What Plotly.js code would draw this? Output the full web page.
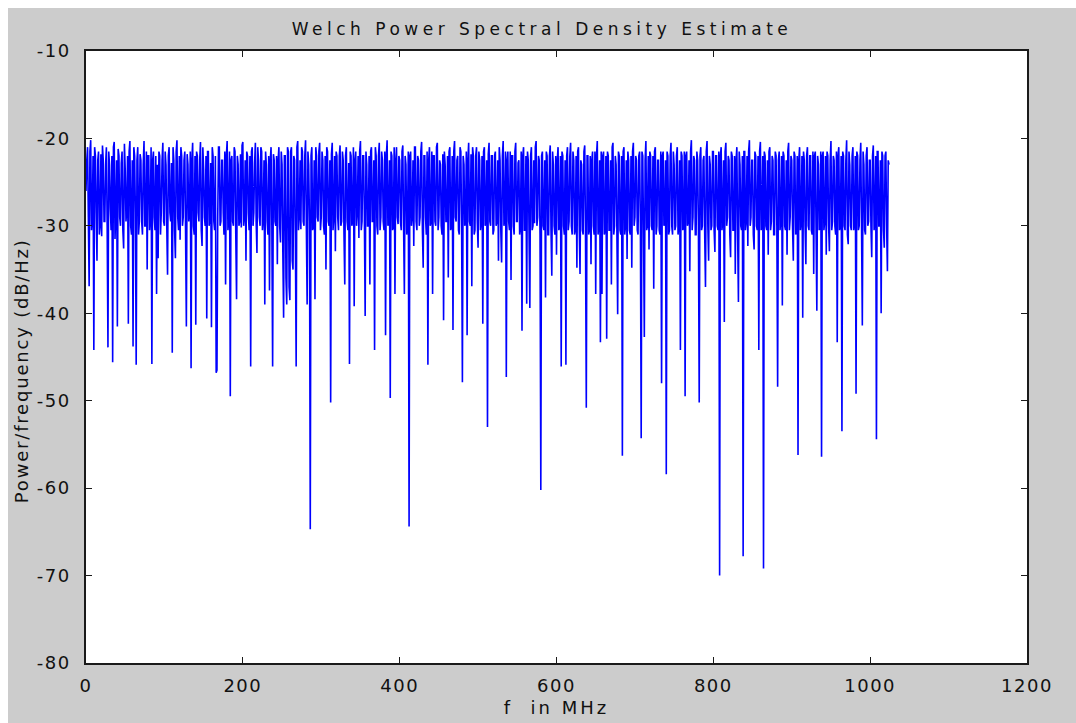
<!DOCTYPE html>
<html>
<head>
<meta charset="utf-8">
<script src="https://cdn.plot.ly/plotly-3.0.1.min.js"></script>
<style>
  html, body { margin: 0; padding: 0; background: #ffffff; }
  #chart { position: absolute; left: 8px; top: 8px; width: 1068px; height: 715px; }
  .gtitle { letter-spacing: 4.5px; }
  .xtick text, .ytick text { letter-spacing: 1.5px; }
  .xtitle { letter-spacing: 3px; }
  .annotation-text { letter-spacing: 1.8px; }
</style>
</head>
<body>
<div id="chart"></div>
<script>
// Frequency grid step (MHz) of the Welch estimate
const freqStepMHz = 1;

// Power/frequency (dB/Hz), one value per 1 MHz bin, 0 .. 1024 MHz (20 values per row)
const psd_dB = [
  -26, -22.5, -21, -29, -36.9, -21.5, -20.2, -30.5, -29, -22, -44.2, -21, -22, -28.5, -34, -22.5, -21.5, -31, -30, -21.8,
  -31.2, -20.8, -22.5, -29.5, -29.5, -23, -21, -30, -43.9, -21.5, -23, -28, -30.5, -22, -45.6, -21, -20.4, -31.5, -28.5, -22.5,
  -41.5, -21.2, -22, -29, -30, -22.8, -21.5, -30.5, -32.6, -20.6, -23.5, -29.5, -28, -22, -41.2, -21.5, -20.3, -30, -31, -22.5,
  -43.8, -21, -22, -28.5, -45.9, -22.5, -21, -31, -29.5, -21.8, -22.5, -29.5, -31, -23, -20.3, -30, -30, -21.5, -35, -22,
  -22, -30.5, -29, -21, -45.8, -22.5, -21.5, -29, -30.5, -22, -37.8, -23, -33.7, -21.5, -22, -31, -28.5, -22.5, -20.5, -29.5,
  -30, -21.5, -23, -30, -35.6, -22, -21, -28.5, -29.5, -22.8, -44.5, -21, -22.5, -30.5, -33.7, -21.5, -20.2, -29, -30.5, -22,
  -31.6, -21, -22, -30, -29, -22.5, -21.5, -31, -41.5, -21.8, -23, -29.5, -28, -21.5, -46.3, -22.5, -20.5, -30, -31, -22,
  -41.3, -21.5, -22, -28.5, -29.5, -22.5, -20.4, -30.5, -32.3, -21, -23.5, -29, -30, -22, -40.6, -21.5, -21.5, -30, -29, -22.8,
  -41.6, -21, -22, -29.5, -30.5, -22, -46.8, -46.5, -29, -21, -21, -30, -29.5, -22.5, -22.5, -28.5, -31, -21.5, -36.7, -22,
  -20.3, -30.5, -29, -21.5, -49.5, -22.5, -22, -29.5, -30, -21, -21.5, -31, -38.4, -22, -23, -30, -29.5, -21.8, -30.2, -20.8,
  -20.4, -30, -29, -22.5, -34, -21.5, -22, -28.5, -30.5, -22, -46.1, -21.5, -21, -30, -28.5, -22.8, -20.5, -29.5, -33.1, -21,
  -22.5, -29, -30, -21, -21.5, -30.5, -29, -22.5, -39, -21.5, -23, -29.5, -31, -22, -37.4, -22.5, -21, -30, -46.1, -21.8,
  -22.5, -29.5, -30, -22, -34.4, -22.5, -21, -30, -31.9, -21.5, -23, -33, -40.5, -22, -22, -36, -39, -21, -21.5, -37,
  -38.5, -21.5, -21, -34, -35, -22, -22.5, -31, -46.1, -21, -20.3, -30.5, -29, -22.5, -30.4, -21, -21.5, -29.5, -30, -22,
  -20.2, -30, -39, -21.5, -23, -29.5, -64.7, -22, -21, -30.5, -30, -22.5, -38.4, -21, -22, -29, -29.5, -21.5, -20.5, -30.5,
  -29, -21.5, -22.5, -30, -31, -22, -35, -21, -21.5, -29.5, -30, -22.5, -50.2, -21.8, -20.5, -30.5, -29, -22, -32.9, -21.5,
  -22, -29, -30.5, -22, -20.8, -30, -29.5, -21.5, -22.5, -31, -36.7, -22, -21, -29.5, -30.5, -22.8, -45.8, -21.5, -22, -30,
  -29.5, -21, -39.2, -22.5, -21.5, -30, -28.5, -22, -31.4, -21.5, -20.3, -30.5, -29.5, -22, -22, -29, -40.3, -21.5, -23, -30,
  -30, -22, -36.7, -21.5, -21, -29.5, -29.5, -22.5, -44.2, -21, -22, -30, -31, -22, -20.5, -30.5, -29, -21.5, -22.5, -29.5,
  -30.5, -21.5, -42.5, -22, -20.2, -30, -29.5, -22.5, -49.7, -21.5, -22, -30.5, -30, -21, -37.8, -22.5, -21, -29, -29.8, -22,
  -22.5, -29.5, -30.5, -21.5, -20.8, -30, -37.8, -22, -23, -31, -29.5, -21.5, -64.4, -22, -21.5, -30, -29, -22.5, -32.3, -21,
  -21, -29.5, -30.5, -22, -22.5, -30, -29, -21.5, -20.4, -30.5, -34.8, -22, -22, -29, -31, -21.5, -45.9, -22.5, -21, -30,
  -29.5, -21.5, -37.8, -22, -22, -29.5, -30, -21, -20.5, -30.5, -29, -22.5, -23, -30, -31, -21.8, -40.8, -21.5, -23, -29.5,
  -29.5, -22, -35.9, -21.5, -21, -30.5, -30, -22, -41.9, -21.5, -20.3, -29, -29.5, -22.5, -22, -30.5, -31, -21, -21.5, -30,
  -47.9, -22, -23, -30, -29.5, -21.5, -42.5, -22.5, -20.5, -29.5, -30, -21.8, -36.9, -21, -22, -31, -30.5, -22, -21, -29.5,
  -32.5, -21.5, -22.5, -30.5, -29.5, -22, -41.2, -21.5, -21, -30, -29, -22.5, -53, -21.8, -20.5, -29.5, -30, -22, -22, -31,
  -30.5, -22, -21.5, -30, -29.5, -22.5, -34, -21, -22.5, -30.5, -34.2, -22, -20.3, -30, -29, -21.5, -47.3, -22.5, -21.5, -29.5,
  -30.5, -21.5, -36.2, -22, -22, -30, -31, -21.5, -20.5, -29.5, -29.5, -22.8, -22.5, -31, -30, -21.5, -42, -22, -21, -30.5,
  -30.5, -22, -38.9, -21.5, -22.5, -31, -39.4, -22, -21, -30.5, -30, -22.5, -29.7, -21, -20.3, -30, -29, -22, -22.5, -31,
  -60.2, -22, -21.5, -30, -30.5, -22.5, -38.2, -21.5, -22, -31, -31, -22, -20.8, -30.5, -35.7, -21.5, -23, -30, -31, -22,
  -33.3, -22.5, -21, -30.5, -30, -22, -46.1, -21.5, -22, -30, -31, -22.5, -45.9, -22, -21, -30.5, -29.5, -22, -20.5, -30,
  -31, -21.5, -22.5, -31, -30.5, -22, -34.8, -21.5, -21, -30, -35.5, -22.5, -23, -30.5, -31, -21.5, -20.8, -31, -50.8, -22,
  -22, -31, -30.5, -22, -34.4, -22.5, -21.5, -30, -31, -21.5, -37.8, -22, -20.3, -31, -30, -22.5, -43.3, -21.5, -37.8, -22,
  -21.5, -31, -30.5, -22, -42.9, -21.5, -22, -30.5, -30.5, -22.5, -36.7, -21, -20.5, -31, -30, -22, -23, -30.5, -40.1, -21.5,
  -22, -30.5, -31, -22, -56.3, -21.5, -21, -31, -30, -22.5, -33.8, -21.5, -22.5, -30.5, -31, -22, -34.8, -21.5, -20.5, -30,
  -29, -22, -22.5, -30.5, -31, -22, -21.5, -30, -54.3, -21.5, -22, -31, -42.7, -22.5, -20.3, -30.5, -30, -22, -32.7, -21.5,
  -22, -30, -30.5, -22, -37.2, -21.5, -21, -31, -30, -22.5, -22.5, -30.5, -31, -21.5, -48, -22, -21.5, -30, -29.5, -22.5,
  -58.4, -21.5, -22, -31, -30.5, -22, -20.5, -30, -31, -21.5, -23, -30.5, -30, -22, -21, -31, -30, -22.5, -44.2, -21.5,
  -22, -30.5, -30, -21.5, -49.5, -22, -21.5, -30, -29.5, -22.5, -35.2, -21.5, -20.2, -30.5, -29, -22, -22.5, -31, -31, -21.5,
  -22.5, -30, -50.2, -22, -21, -30.5, -30, -22.5, -22, -31, -37, -21.5, -20.3, -30, -34, -22, -23, -30.5, -30, -21.5,
  -21.5, -30.5, -33, -22, -22, -30, -30.5, -21.5, -70, -22, -21, -30.5, -29.5, -22.5, -41, -21.5, -20.5, -30, -29, -22,
  -22.5, -31, -33.6, -21.5, -22, -30.5, -30.5, -22, -35.5, -22.5, -21, -31, -38.7, -21.5, -23, -30, -30.5, -22, -67.8, -21.5,
  -21.5, -30.5, -29.5, -22, -32.3, -21.5, -20.2, -30, -29, -22.5, -22.5, -31, -32.7, -21.5, -22, -30, -30.5, -22, -44.2, -21.5,
  -20.4, -30.5, -29, -22, -69.2, -21.5, -22, -30, -30.5, -22.5, -33.3, -21.5, -21, -30.5, -29.5, -22, -22.5, -31, -31, -21.5,
  -22, -30, -48.4, -22.5, -21.5, -30.5, -29.5, -22, -39.1, -21.5, -22, -30, -30.5, -22.5, -33.3, -21.5, -20.5, -30.5, -29, -22,
  -22.5, -30, -34, -21.5, -22, -31, -30.5, -22, -56.2, -22.5, -21, -30.5, -29.5, -22, -40.5, -21.5, -22.5, -30, -34.4, -22,
  -21, -30, -30.5, -22, -22, -30.5, -31, -21.5, -35.5, -22, -21.5, -30.5, -39.7, -22, -23, -30.5, -30, -21.5, -56.4, -22,
  -21.5, -30.5, -29.5, -22, -33.3, -21.5, -22, -30, -32.9, -22.5, -20.3, -30.5, -29.5, -22, -22.5, -30, -31, -21.5, -43.3, -22,
  -21, -30.5, -29.5, -22, -53.5, -21.5, -22, -30, -30.5, -22.5, -20.2, -31, -32.1, -21.5, -23, -30, -30.5, -22, -21, -30.5,
  -29.5, -22, -49.2, -21.5, -22, -30.5, -30, -22.5, -20.5, -30, -41.4, -21.5, -23, -30.5, -31, -22, -21, -30, -29.5, -22.5,
  -22.5, -30, -33.6, -22, -20.8, -30.5, -29, -22, -54.4, -21.5, -21.5, -30, -30, -22.5, -40, -21.5, -22, -30.5, -32.5, -22,
  -21.5, -30, -35.2, -22.5, -23
];

const freqMHz = psd_dB.map((_, i) => i * freqStepMHz);

const xTickVals = [0, 200, 400, 600, 800, 1000, 1200];
const yTickVals = [-80, -70, -60, -50, -40, -30, -20, -10];

const titleText = 'Welch Power Spectral Density Estimate';
const xTitleText = 'f  in MHz';
const yTitleText = 'Power/frequency (dB/Hz)';

const FONT = '"DejaVu Sans", "Liberation Sans", Arial, sans-serif';
const AXIS_COLOR = '#1a1a1a';

const trace = {
  x: freqMHz,
  y: psd_dB,
  type: 'scatter',
  mode: 'lines',
  line: { color: '#0000ff', width: 1.6, simplify: false },
  hoverinfo: 'x+y'
};

const axisCommon = {
  showgrid: false,
  zeroline: false,
  showline: true,
  linecolor: AXIS_COLOR,
  linewidth: 1.5,
  mirror: 'ticks',
  ticks: 'inside',
  ticklen: 6,
  tickwidth: 1.2,
  tickcolor: AXIS_COLOR,
  tickfont: { family: FONT, size: 18, color: '#111111' }
};

const layout = {
  width: 1068,
  height: 715,
  paper_bgcolor: '#cccccc',
  plot_bgcolor: '#ffffff',
  margin: { l: 78, r: 49, t: 43, b: 60 },
  showlegend: false,
  title: {
    text: titleText,
    font: { family: FONT, size: 17, color: '#111111' },
    xref: 'container', x: 0.5, xanchor: 'center',
    yref: 'container', y: 0.97, yanchor: 'middle'
  },
  xaxis: Object.assign({}, axisCommon, {
    range: [0, 1200],
    tickmode: 'array',
    tickvals: xTickVals,
    ticktext: xTickVals.map(String),
    ticklabelstandoff: 6,
    title: { text: xTitleText, font: { family: FONT, size: 18, color: '#111111' }, standoff: 6 }
  }),
  yaxis: Object.assign({}, axisCommon, {
    range: [-80, -10],
    tickmode: 'array',
    tickvals: yTickVals,
    ticktext: yTickVals.map(String),
    ticklabelstandoff: 10
  }),
  annotations: [{
    text: yTitleText,
    textangle: -90,
    xref: 'paper', yref: 'paper',
    x: -0.069, y: 0.477,
    xanchor: 'center', yanchor: 'middle',
    showarrow: false,
    font: { family: FONT, size: 18, color: '#111111' }
  }]
};

Plotly.newPlot('chart', [trace], layout, { displayModeBar: false, responsive: false });
</script>
</body>
</html>
